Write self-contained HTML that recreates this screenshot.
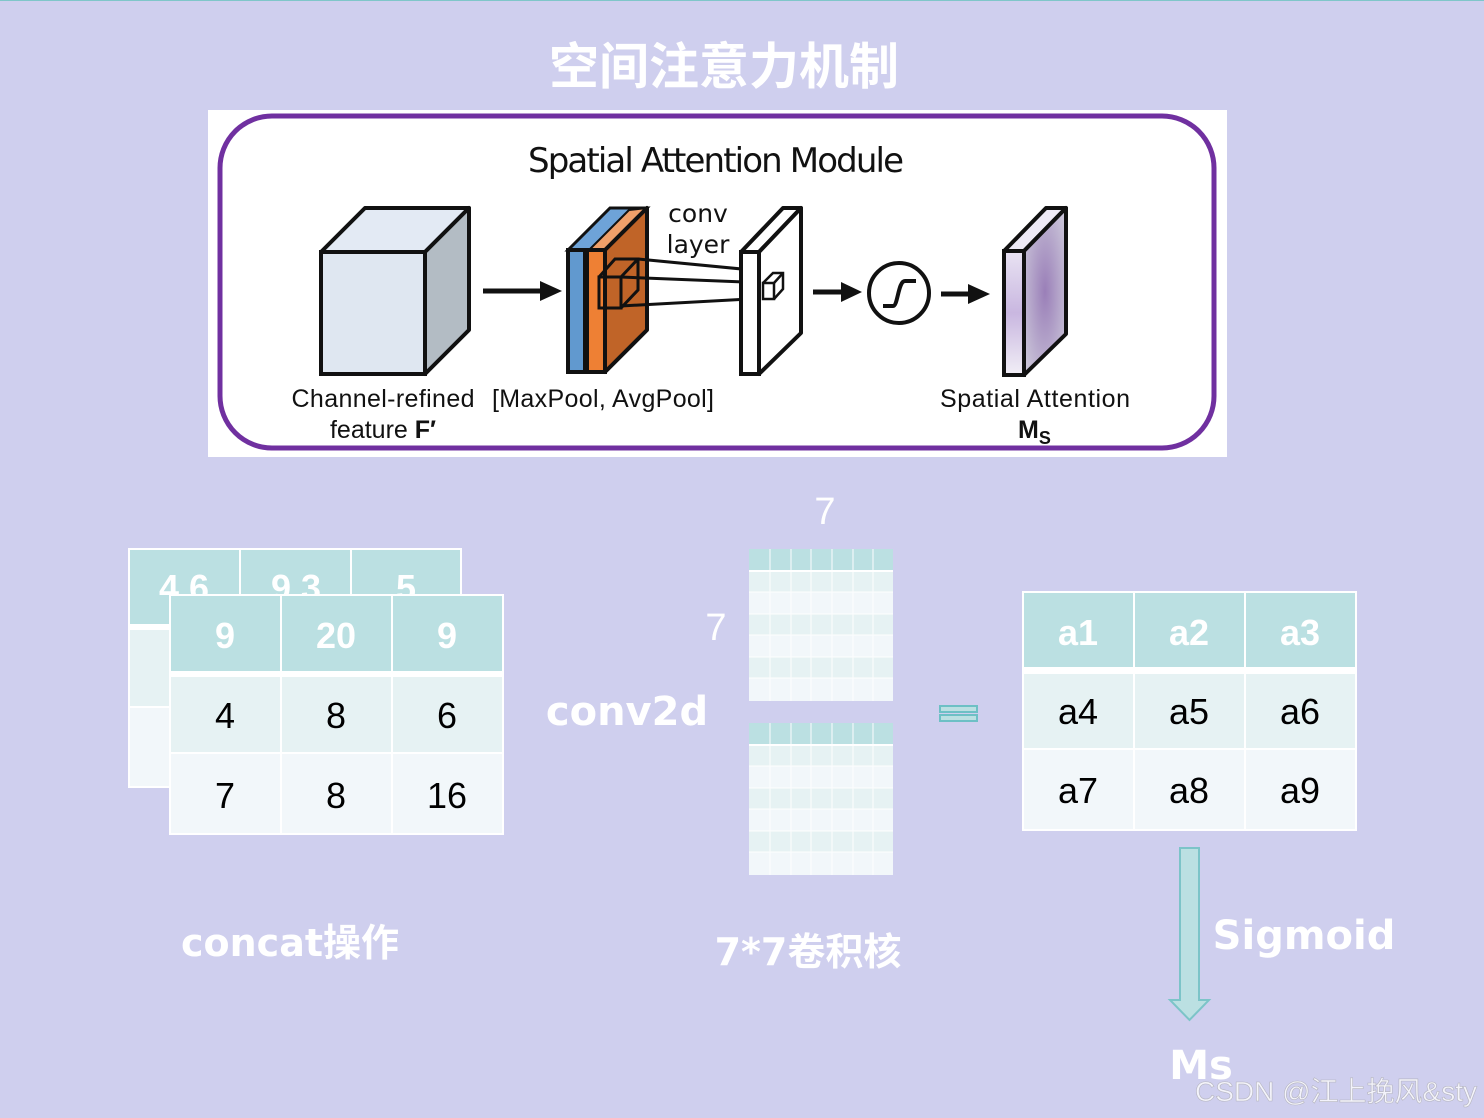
<!DOCTYPE html>
<html><head><meta charset="utf-8"><style>
html,body{margin:0;padding:0;background:#CFCFEE;}
svg{display:block}
text{font-family:"Liberation Sans","Noto Sans CJK SC",sans-serif;}
</style></head><body>
<svg width="1484" height="1118" viewBox="0 0 1484 1118" xmlns="http://www.w3.org/2000/svg">
<rect width="1484" height="1118" fill="#CFCFEE"/>
<line x1="0" y1="0.5" x2="1484" y2="0.5" stroke="#7fc6c9" stroke-width="1"/>
<text x="724" y="84" text-anchor="middle" font-size="50" font-weight="bold" fill="#fff" style="font-family:'Noto Sans CJK SC',sans-serif">空间注意力机制</text>

<!-- top module -->
<rect x="208" y="110" width="1019" height="347" fill="#fff"/>
<rect x="220" y="116" width="994" height="332" rx="52" fill="none" stroke="#7030A0" stroke-width="5"/>
<text x="716" y="172" text-anchor="middle" font-size="34" fill="#111" style="font-family:'DejaVu Sans',sans-serif" textLength="376">Spatial Attention Module</text>
<!-- cube -->
<polygon points="321,252 365,208 469,208 425,252" fill="#E3EAF4" stroke="#111" stroke-width="4" stroke-linejoin="round"/>
<polygon points="425,252 469,208 469,330 425,374" fill="#B3BCC4" stroke="#111" stroke-width="4" stroke-linejoin="round"/>
<rect x="321" y="252" width="104" height="122" fill="#DFE7F1" stroke="#111" stroke-width="4"/>
<!-- arrow1 -->
<line x1="483" y1="291" x2="545" y2="291" stroke="#111" stroke-width="5"/>
<polygon points="540,281 562,291 540,301" fill="#111"/>
<!-- pooled slabs -->
<polygon points="568,250 610,208 647,208 605,250" fill="#6EA3D8" stroke="#111" stroke-width="3"/>
<polygon points="589,250 629,210 647,208 606,250" fill="#F0A06A" stroke="#111" stroke-width="2"/>
<polygon points="605,250 647,208 647,330 605,372" fill="#C06428" stroke="#111" stroke-width="4" stroke-linejoin="round"/>
<rect x="568" y="250" width="17" height="122" fill="#6199CF" stroke="#111" stroke-width="4"/>
<rect x="587" y="250" width="18" height="122" fill="#EE8034" stroke="#111" stroke-width="4"/>
<!-- small cube in slab -->
<rect x="599" y="277" width="22" height="31" fill="none" stroke="#111" stroke-width="3"/>
<polyline points="599,277 615,259 638,259 638,290 621,308" fill="none" stroke="#111" stroke-width="3"/>
<line x1="621" y1="277" x2="638" y2="259" stroke="#111" stroke-width="3"/>
<line x1="638" y1="259" x2="783" y2="273" stroke="#111" stroke-width="3"/>
<line x1="621" y1="277" x2="768" y2="283" stroke="#111" stroke-width="3"/>
<line x1="621" y1="306" x2="768" y2="298" stroke="#111" stroke-width="3"/>
<!-- conv layer plane -->
<polygon points="741,252 783,208 801,208 759,252" fill="#fff" stroke="#111" stroke-width="4" stroke-linejoin="round"/>
<polygon points="759,252 801,208 801,333 759,374" fill="#fff" stroke="#111" stroke-width="4" stroke-linejoin="round"/>
<rect x="741" y="252" width="18" height="122" fill="#fff" stroke="#111" stroke-width="4"/>
<rect x="763" y="283" width="11" height="16" fill="#fff" stroke="#111" stroke-width="2.5"/>
<polyline points="763,283 773,273 783,273 783,289 774,299" fill="none" stroke="#111" stroke-width="2.5"/>
<line x1="774" y1="283" x2="783" y2="273" stroke="#111" stroke-width="2.5"/>
<text x="698" y="222" text-anchor="middle" font-size="25" fill="#111" style="font-family:'DejaVu Sans',sans-serif">conv</text>
<text x="698" y="253" text-anchor="middle" font-size="25" fill="#111" style="font-family:'DejaVu Sans',sans-serif">layer</text>
<!-- arrow2 -->
<line x1="813" y1="292" x2="845" y2="292" stroke="#111" stroke-width="5"/>
<polygon points="841,282 862,292 841,302" fill="#111"/>
<circle cx="899" cy="293" r="30" fill="#fff" stroke="#111" stroke-width="4"/>
<path d="M883,306 L893,306 C898,306 898,281 905,281 L916,281" fill="none" stroke="#111" stroke-width="4"/>
<line x1="941" y1="294" x2="972" y2="294" stroke="#111" stroke-width="5"/>
<polygon points="968,284 990,294 968,304" fill="#111"/>
<!-- attention map -->
<defs>
<radialGradient id="rg" cx="0.5" cy="0.5" r="0.6"><stop offset="0" stop-color="#9A7FB8"/><stop offset="1" stop-color="#C9C3D8"/></radialGradient>
<linearGradient id="lg" x1="0" y1="0" x2="0" y2="1"><stop offset="0" stop-color="#E9E3F3"/><stop offset="0.5" stop-color="#C9B7E0"/><stop offset="1" stop-color="#F1EEF6"/></linearGradient>
</defs>
<polygon points="1004,251 1046,208 1066,208 1024,251" fill="#EEEAF6" stroke="#111" stroke-width="4" stroke-linejoin="round"/>
<polygon points="1024,251 1066,208 1066,334 1024,375" fill="url(#rg)" stroke="#111" stroke-width="4" stroke-linejoin="round"/>
<rect x="1004" y="251" width="20" height="124" fill="url(#lg)" stroke="#111" stroke-width="4"/>
<!-- labels -->
<g font-size="25" fill="#111" style="font-family:'DejaVu Sans',sans-serif">
<text x="383" y="407" text-anchor="middle" textLength="183">Channel-refined</text>
<text x="383" y="438" text-anchor="middle">feature <tspan font-weight="bold">F′</tspan></text>
<text x="603" y="407" text-anchor="middle" textLength="222">[MaxPool, AvgPool]</text>
<text x="1035" y="407" text-anchor="middle" textLength="190">Spatial Attention</text>
<text x="1018" y="438" font-weight="bold">M<tspan font-size="18" dy="6">S</tspan></text>
</g>

<!-- back table -->
<g>
<rect x="128" y="548" width="334" height="240" fill="#fff"/>
<rect x="130" y="550" width="109" height="74" fill="#BBE0E2"/>
<rect x="241" y="550" width="109" height="74" fill="#BBE0E2"/>
<rect x="352" y="550" width="108" height="74" fill="#BBE0E2"/>
<rect x="130" y="630" width="330" height="76" fill="#E6F2F3"/>
<rect x="130" y="708" width="330" height="78" fill="#F2F7FA"/>
<g font-size="36" font-weight="bold" fill="#fff" text-anchor="middle">
<text x="184" y="600">4 6</text><text x="296" y="600">9 3</text><text x="406" y="600">5</text></g>
</g>
<!-- front table -->
<g>
<rect x="169" y="594" width="335" height="241" fill="#fff"/>
<rect x="171" y="596" width="109" height="75" fill="#BBE0E2"/>
<rect x="282" y="596" width="109" height="75" fill="#BBE0E2"/>
<rect x="393" y="596" width="109" height="75" fill="#BBE0E2"/>
<rect x="171" y="677" width="109" height="75" fill="#E6F2F3"/>
<rect x="282" y="677" width="109" height="75" fill="#E6F2F3"/>
<rect x="393" y="677" width="109" height="75" fill="#E6F2F3"/>
<rect x="171" y="754" width="109" height="79" fill="#F2F7FA"/>
<rect x="282" y="754" width="109" height="79" fill="#F2F7FA"/>
<rect x="393" y="754" width="109" height="79" fill="#F2F7FA"/>
<g font-size="36" font-weight="bold" fill="#fff" text-anchor="middle">
<text x="225" y="648">9</text><text x="336" y="648">20</text><text x="447" y="648">9</text></g>
<g font-size="36" fill="#000" text-anchor="middle">
<text x="225" y="728">4</text><text x="336" y="728">8</text><text x="447" y="728">6</text>
<text x="225" y="808">7</text><text x="336" y="808">8</text><text x="447" y="808">16</text></g>
</g>

<text x="627" y="725" text-anchor="middle" font-size="40" font-weight="bold" fill="#fff" style="font-family:'DejaVu Sans',sans-serif">conv2d</text>
<text x="825" y="524" text-anchor="middle" font-size="38" fill="#fff">7</text>
<text x="716" y="640" text-anchor="middle" font-size="38" fill="#fff">7</text>

<!-- kernels -->
<g id="k1">
<rect x="749" y="549" width="144" height="152" fill="#F2F7FA"/>
<rect x="749" y="549" width="144" height="21" fill="#BBE0E2"/>
<rect x="749" y="570" width="144" height="2" fill="#fff"/>
<rect x="749" y="572" width="144" height="20" fill="#E6F2F3"/>
<rect x="749" y="614" width="144" height="21" fill="#E6F2F3"/>
<rect x="749" y="657" width="144" height="21" fill="#E6F2F3"/>
<g stroke="#fff" stroke-width="1.2" opacity="0.8">
<line x1="770" y1="549" x2="770" y2="701"/><line x1="791" y1="549" x2="791" y2="701"/><line x1="811" y1="549" x2="811" y2="701"/><line x1="832" y1="549" x2="832" y2="701"/><line x1="853" y1="549" x2="853" y2="701"/><line x1="873" y1="549" x2="873" y2="701"/>
<line x1="749" y1="592" x2="893" y2="592"/><line x1="749" y1="614" x2="893" y2="614"/><line x1="749" y1="635" x2="893" y2="635"/><line x1="749" y1="657" x2="893" y2="657"/><line x1="749" y1="678" x2="893" y2="678"/>
</g>
</g>
<use href="#k1" transform="translate(0,174)"/>

<!-- equals -->
<rect x="940" y="706" width="37" height="6" fill="#BBE0E2" stroke="#6DC0C5" stroke-width="2"/>
<rect x="940" y="715" width="37" height="6" fill="#BBE0E2" stroke="#6DC0C5" stroke-width="2"/>

<!-- right table -->
<g>
<rect x="1022" y="591" width="335" height="240" fill="#fff"/>
<rect x="1024" y="593" width="109" height="74" fill="#BBE0E2"/>
<rect x="1135" y="593" width="109" height="74" fill="#BBE0E2"/>
<rect x="1246" y="593" width="109" height="74" fill="#BBE0E2"/>
<rect x="1024" y="674" width="109" height="74" fill="#E6F2F3"/>
<rect x="1135" y="674" width="109" height="74" fill="#E6F2F3"/>
<rect x="1246" y="674" width="109" height="74" fill="#E6F2F3"/>
<rect x="1024" y="750" width="109" height="79" fill="#F2F7FA"/>
<rect x="1135" y="750" width="109" height="79" fill="#F2F7FA"/>
<rect x="1246" y="750" width="109" height="79" fill="#F2F7FA"/>
<g font-size="36" font-weight="bold" fill="#fff" text-anchor="middle">
<text x="1078" y="645">a1</text><text x="1189" y="645">a2</text><text x="1300" y="645">a3</text></g>
<g font-size="36" fill="#000" text-anchor="middle">
<text x="1078" y="724">a4</text><text x="1189" y="724">a5</text><text x="1300" y="724">a6</text>
<text x="1078" y="803">a7</text><text x="1189" y="803">a8</text><text x="1300" y="803">a9</text></g>
</g>

<!-- down arrow -->
<polygon points="1180,848 1199,848 1199,1000 1209,1000 1189.5,1020 1170,1000 1180,1000" fill="#BBE0E2" stroke="#7CC4C8" stroke-width="2"/>

<text x="1304" y="949" text-anchor="middle" font-size="40" font-weight="bold" fill="#fff" style="font-family:'DejaVu Sans',sans-serif">Sigmoid</text>
<text x="1201" y="1079" text-anchor="middle" font-size="40" font-weight="bold" fill="#fff" style="font-family:'DejaVu Sans',sans-serif">Ms</text>
<text x="290" y="956" text-anchor="middle" font-size="38" font-weight="bold" fill="#fff" style="font-family:'DejaVu Sans','Noto Sans CJK SC',sans-serif">concat操作</text>
<text x="808" y="965" text-anchor="middle" font-size="38" font-weight="bold" fill="#fff" style="font-family:'DejaVu Sans','Noto Sans CJK SC',sans-serif">7*7卷积核</text>
<text x="1336" y="1101" text-anchor="middle" font-size="28" fill="#fff" fill-opacity="0.75" stroke="#999" stroke-width="0.6" stroke-opacity="0.6">CSDN @江上挽风&amp;sty</text>
</svg>
</body></html>
